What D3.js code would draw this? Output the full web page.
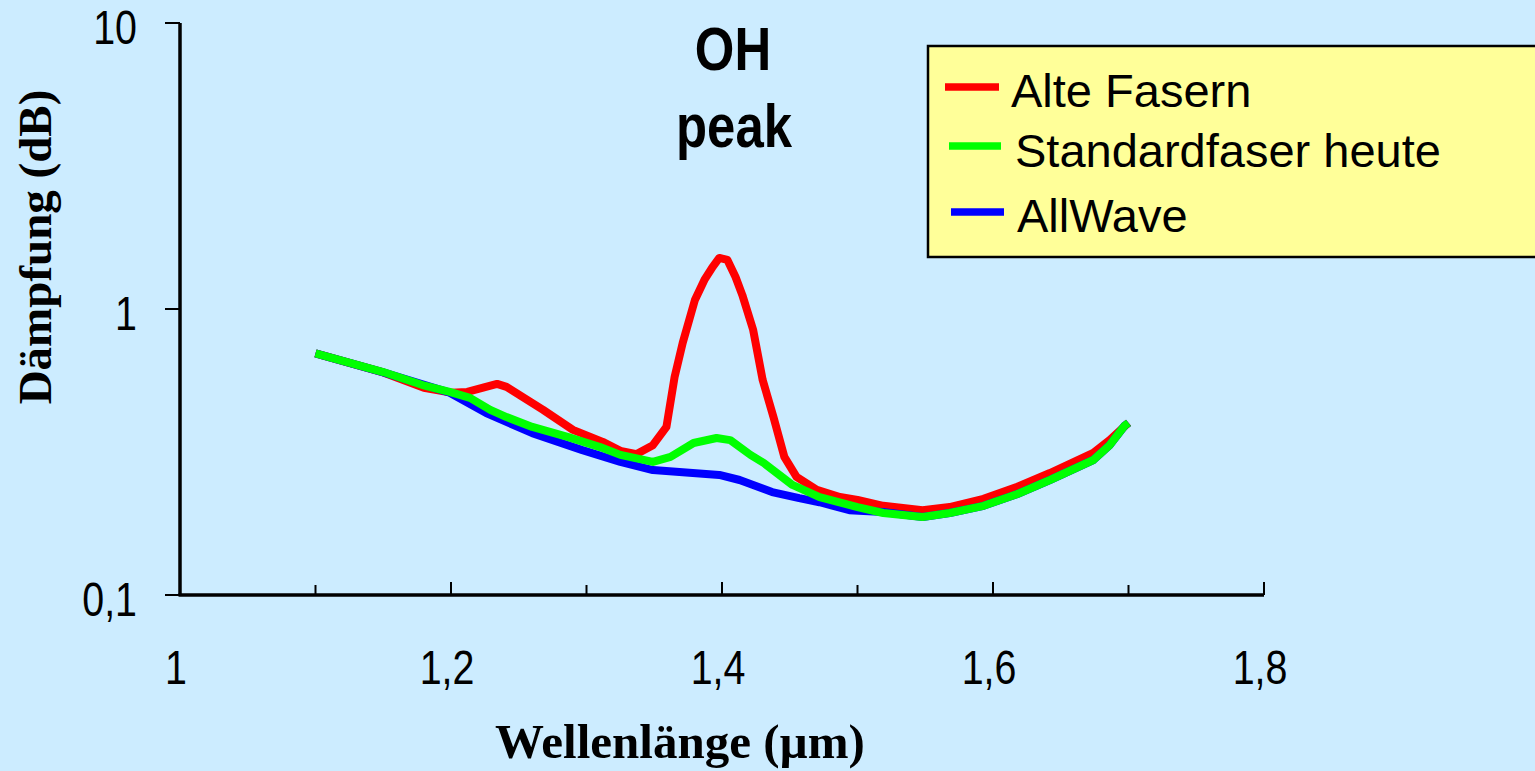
<!DOCTYPE html>
<html>
<head>
<meta charset="utf-8">
<script src="https://cdn.jsdelivr.net/npm/d3@7"></script>
<style>
  html, body { margin: 0; padding: 0; background: #CCECFF; }
  svg { display: block; }
</style>
</head>
<body>
<svg id="chart" width="1535" height="771"></svg>
<script>
// ---- Data ----
const xTicksMajor = [1, 1.2, 1.4, 1.6, 1.8];
const xTicksMinor = [1.1, 1.3, 1.5, 1.7];
const xTickLabels = ["1", "1,2", "1,4", "1,6", "1,8"];
const yTicks = [10, 1, 0.1];
const yTickLabels = ["10", "1", "0,1"];

const seriesNames = ["Alte Fasern", "Standardfaser heute", "AllWave"];
const seriesColors = ["#FF0000", "#00FF00", "#0000FF"];

const alteWl  = [1.10,1.15,1.18,1.20,1.212,1.234,1.241,1.268,1.29,1.312,1.325,1.337,1.349,1.359,1.365,1.371,1.38,1.387,1.393,1.398,1.404,1.41,1.415,1.423,1.43,1.438,1.446,1.455,1.47,1.487,1.50,1.519,1.548,1.568,1.593,1.618,1.642,1.674,1.686,1.70];
const alteVal = [0.70,0.60,0.53,0.51,0.513,0.547,0.534,0.444,0.378,0.343,0.319,0.311,0.334,0.387,0.578,0.761,1.075,1.263,1.402,1.508,1.484,1.294,1.119,0.845,0.565,0.419,0.304,0.259,0.233,0.220,0.215,0.205,0.198,0.203,0.217,0.239,0.267,0.314,0.348,0.40];

const stdWl  = [1.10,1.15,1.179,1.199,1.214,1.229,1.241,1.26,1.286,1.31,1.325,1.349,1.362,1.379,1.396,1.406,1.421,1.431,1.452,1.472,1.50,1.519,1.548,1.568,1.593,1.618,1.642,1.674,1.686,1.697,1.70];
const stdVal = [0.70,0.602,0.542,0.513,0.489,0.444,0.419,0.387,0.357,0.329,0.309,0.292,0.304,0.340,0.354,0.348,0.309,0.289,0.2425,0.220,0.203,0.1935,0.1874,0.1935,0.205,0.2255,0.2524,0.2965,0.334,0.39,0.40];

const allWl  = [1.10,1.15,1.199,1.226,1.26,1.297,1.325,1.349,1.398,1.413,1.437,1.457,1.472,1.494,1.519,1.548,1.568,1.593,1.618,1.642,1.674,1.686,1.697,1.70];
const allVal = [0.70,0.60,0.51,0.433,0.368,0.321,0.292,0.2735,0.263,0.2524,0.229,0.218,0.211,0.198,0.195,0.1874,0.1935,0.205,0.2255,0.2524,0.2965,0.334,0.39,0.40];

const series = [
  { name: seriesNames[0], color: seriesColors[0], pts: alteWl.map((w, i) => [w, alteVal[i]]) },
  { name: seriesNames[1], color: seriesColors[1], pts: stdWl.map((w, i) => [w, stdVal[i]]) },
  { name: seriesNames[2], color: seriesColors[2], pts: allWl.map((w, i) => [w, allVal[i]]) }
];
// draw order: red, blue, green on top
const drawOrder = [0, 2, 1];

// ---- Chart ----
const svg = d3.select("#chart");
const narrow = '"Liberation Sans Narrow", "Arial Narrow", "Liberation Sans", Arial, sans-serif';
const sans = '"Liberation Sans", Arial, sans-serif';
const serif = '"Liberation Serif", "Times New Roman", serif';

// detect whether a true narrow face exists; otherwise compress glyphs horizontally
const probeN = svg.append("text").attr("font-family", '"Liberation Sans Narrow", "Arial Narrow", monospace').attr("font-size", 100).text("1,2345");
const probeS = svg.append("text").attr("font-family", sans).attr("font-size", 100).text("1,2345");
const hasNarrow = Math.abs(probeN.node().getComputedTextLength() - probeS.node().getComputedTextLength() * 0.82) < 15;
probeN.remove(); probeS.remove();
function condense(sel) {
  if (hasNarrow) return;
  sel.each(function () {
    const w = this.getComputedTextLength();
    d3.select(this).attr("textLength", w * 0.82).attr("lengthAdjust", "spacingAndGlyphs");
  });
}

svg.append("rect").attr("width", 1535).attr("height", 771).attr("fill", "#CCECFF");

const x = d3.scaleLinear().domain([1, 1.8]).range([180, 1264]);
const y = d3.scaleLog().domain([0.1, 10]).range([595, 23]);

// Axes lines
const axisG = svg.append("g");
axisG.append("line").attr("x1", x(1)).attr("x2", x(1)).attr("y1", y(10)).attr("y2", y(0.1))
  .attr("stroke", "#000").attr("stroke-width", 3.5);
axisG.append("line").attr("x1", x(1) - 1.5).attr("x2", x(1.8)).attr("y1", y(0.1)).attr("y2", y(0.1))
  .attr("stroke", "#000").attr("stroke-width", 3.5);

// Y ticks (left)
axisG.selectAll(".ytick").data(yTicks).join("line")
  .attr("x1", x(1) - 15).attr("x2", x(1)).attr("y1", d => y(d)).attr("y2", d => y(d))
  .attr("stroke", "#000").attr("stroke-width", 2);
axisG.selectAll(".ylab").data(yTicks).join("text")
  .attr("x", 137).attr("y", d => y(d) + 21)
  .attr("text-anchor", "end")
  .attr("font-family", narrow).attr("font-size", 48)
  .text((d, i) => yTickLabels[i])
  .call(condense);

// X ticks (upward)
axisG.selectAll(".xmaj").data(xTicksMajor).join("line")
  .attr("x1", d => x(d)).attr("x2", d => x(d)).attr("y1", y(0.1)).attr("y2", y(0.1) - 13)
  .attr("stroke", "#000").attr("stroke-width", 2);
axisG.selectAll(".xmin").data(xTicksMinor).join("line")
  .attr("x1", d => x(d)).attr("x2", d => x(d)).attr("y1", y(0.1)).attr("y2", y(0.1) - 10)
  .attr("stroke", "#000").attr("stroke-width", 2);
axisG.selectAll(".xlab").data(xTicksMajor).join("text")
  .attr("x", d => x(d) - 4).attr("y", 684)
  .attr("text-anchor", "middle")
  .attr("font-family", narrow).attr("font-size", 48)
  .text((d, i) => xTickLabels[i])
  .call(condense);

// Axis titles
svg.append("text")
  .attr("x", 680).attr("y", 758)
  .attr("text-anchor", "middle")
  .attr("font-family", serif).attr("font-weight", "bold").attr("font-size", 49)
  .text("Wellenlänge (µm)");
svg.append("text")
  .attr("transform", "translate(51,247) rotate(-90)")
  .attr("text-anchor", "middle")
  .attr("font-family", serif).attr("font-weight", "bold").attr("font-size", 47)
  .text("Dämpfung (dB)");

// Lines
const line = d3.line().x(d => x(d[0])).y(d => y(d[1])).curve(d3.curveLinear);
const linesG = svg.append("g");
drawOrder.forEach(i => {
  linesG.append("path")
    .attr("d", line(series[i].pts))
    .attr("fill", "none")
    .attr("stroke", series[i].color)
    .attr("stroke-width", 8)
    .attr("stroke-linejoin", "round");
});

// OH peak annotation
svg.append("text").attr("x", 733).attr("y", 70).attr("text-anchor", "middle")
  .attr("font-family", narrow).attr("font-weight", "bold").attr("font-size", 62).text("OH")
  .call(condense);
svg.append("text").attr("x", 734).attr("y", 147).attr("text-anchor", "middle")
  .attr("font-family", narrow).attr("font-weight", "bold").attr("font-size", 62).text("peak")
  .call(condense);

// Legend
const lg = svg.append("g");
lg.append("rect").attr("x", 928).attr("y", 46).attr("width", 640).attr("height", 211)
  .attr("fill", "#FFFF99").attr("stroke", "#000").attr("stroke-width", 2.5);
const legendPos = [
  { lx1: 945, lx2: 999, ly: 87, tx: 1011, ty: 107 },
  { lx1: 949, lx2: 1001, ly: 146, tx: 1015, ty: 167 },
  { lx1: 951, lx2: 1004, ly: 212, tx: 1017, ty: 232 }
];
series.forEach((s, i) => {
  const p = legendPos[i];
  lg.append("line").attr("x1", p.lx1).attr("x2", p.lx2).attr("y1", p.ly).attr("y2", p.ly)
    .attr("stroke", s.color).attr("stroke-width", 7.5);
  lg.append("text").attr("x", p.tx).attr("y", p.ty)
    .attr("font-family", sans).attr("font-size", 47).text(s.name);
});
</script>
</body>
</html>
